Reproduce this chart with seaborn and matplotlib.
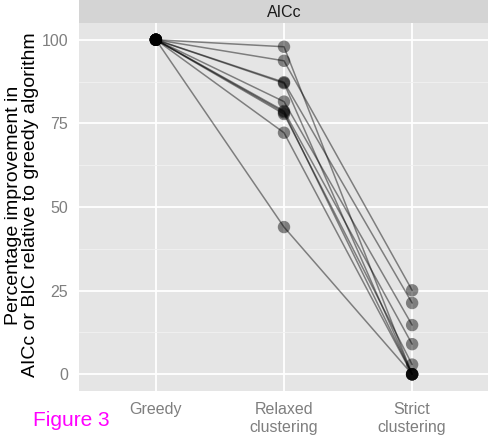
import matplotlib
matplotlib.use("Agg")
import matplotlib.pyplot as plt
import seaborn as sns
import pandas as pd
import numpy as np

sns.set_style("white")
plt.rcParams['font.family'] = ['Liberation Sans', 'DejaVu Sans']

methods = ["Greedy", "Relaxed\nclustering", "Strict\nclustering"]
greedy = [100, 100, 100, 100, 100, 100, 100, 100, 100, 100]
relaxed = [97.9, 93.7, 87.3, 87.0, 81.5, 78.7, 78.3, 77.8, 72.2, 44.0]
strict = [0.0, 25.1, 21.3, 0.0, 14.7, 9.0, 0.0, 2.9, 0.0, 0.0]
series_ids = list(range(1, len(greedy) + 1))

rows = []
for sid, g, r, s in zip(series_ids, greedy, relaxed, strict):
    for m, v in zip(methods, (g, r, s)):
        rows.append({"series": sid, "method": m, "value": v})
df = pd.DataFrame(rows)

W, H = 489, 438
fig = plt.figure(figsize=(W / 100, H / 100), dpi=100)
L, R, T, B = 79, 489, 23, 391
ax = fig.add_axes([L / W, 1 - B / H, (R - L) / W, (B - T) / H])
ax.set_facecolor("#e5e5e5")

sns.lineplot(data=df, x="method", y="value", units="series", estimator=None,
             color="black", alpha=0.45, linewidth=1.1, ax=ax, legend=False, sort=False)
sns.scatterplot(data=df, x="method", y="value", color="black", alpha=0.45,
                s=80, edgecolor="none", ax=ax, legend=False, zorder=4)

ax.set_xlim(-0.6, 2.6)
ax.set_ylim(-5, 105)
ax.set_yticks([0, 25, 50, 75, 100])
ax.set_yticks([12.5, 37.5, 62.5, 87.5], minor=True)
ax.grid(True, which="major", color="white", linewidth=1.3)
ax.grid(True, which="minor", axis="y", color="#f2f2f2", linewidth=0.6)
ax.set_axisbelow(True)
for sp in ax.spines.values():
    sp.set_visible(False)
ax.tick_params(axis="both", which="major", length=5, width=1.1, color="#7f7f7f",
               labelcolor="#7f7f7f", labelsize=11.5, pad=3)
ax.tick_params(axis="both", which="minor", length=0)
ax.set_xlabel("")
ax.set_ylabel("")

# facet strip
sax = fig.add_axes([L / W, 1 - T / H, (R - L) / W, T / H])
sax.set_facecolor("#d4d4d4")
sax.set_xticks([]); sax.set_yticks([])
for sp in sax.spines.values():
    sp.set_visible(False)
sax.text(0.5, 0.45, "AICc", ha="center", va="center", fontsize=11.5,
         color="#1a1a1a", transform=sax.transAxes)

fig.text(22 / W, 1 - 205 / H,
         "Percentage improvement in\nAICc or BIC relative to greedy algorithm",
         rotation=90, ha="center", va="center", fontsize=14, color="black",
         linespacing=1.0)

fig.text(33 / W, 1 - 420 / H, "Figure 3", ha="left", va="center",
         fontsize=15, color="#ff00ff")

fig.savefig("out.png", dpi=100)
